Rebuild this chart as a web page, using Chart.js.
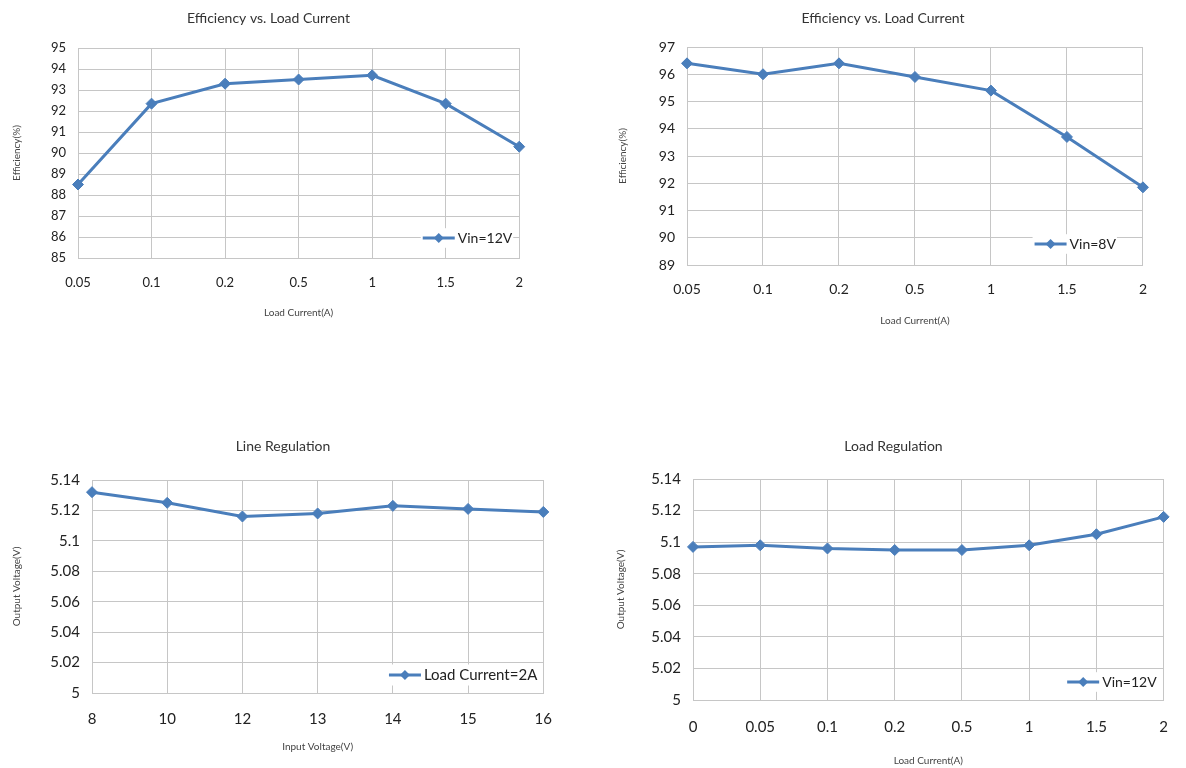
<!DOCTYPE html>
<html>
<head>
<meta charset="utf-8">
<script src="https://cdn.jsdelivr.net/npm/chart.js@4"></script>
<style>
  body { margin: 0; background: #fff; width: 1186px; height: 768px; position: relative; overflow: hidden; }
  canvas { position: absolute; }
</style>
</head>
<body>
<canvas id="eff12"></canvas>
<canvas id="eff8"></canvas>
<canvas id="lineReg"></canvas>
<canvas id="loadReg"></canvas>
<script>
// data
const effCurrent = ['0.05', '0.1', '0.2', '0.5', '1', '1.5', '2'];
const eff12V = [88.5, 92.35, 93.3, 93.5, 93.7, 92.35, 90.3];
const eff8V = [96.4, 96.0, 96.4, 95.9, 95.4, 93.7, 91.85];
const inputVoltage = ['8', '10', '12', '13', '14', '15', '16'];
const lineVout = [5.132, 5.125, 5.116, 5.118, 5.123, 5.121, 5.119];
const loadCurrent = ['0', '0.05', '0.1', '0.2', '0.5', '1', '1.5', '2'];
const loadVout = [5.097, 5.098, 5.096, 5.095, 5.095, 5.098, 5.105, 5.116];

const blue = '#4a7ebb';
const grid = '#c6c6c6';
const font = 'Lato';

// legend drawn inside the plot, bottom right, like the Excel one
const insideLegend = {
    id: 'insideLegend',
    afterDatasetsDraw(chart, args, opts) {
        const ds = chart.data.datasets[0];
        const { ctx, chartArea } = chart;
        ctx.save();
        ctx.font = opts.size + 'px ' + font;
        const tw = ctx.measureText(ds.label).width;
        const y = chartArea.bottom - opts.bottom;
        const xText = chartArea.right - opts.right - tw;
        const x2 = xText - 3;
        const x1 = x2 - 32;
        ctx.fillStyle = '#fff';
        ctx.fillRect(x1 - 2, y - opts.size * 0.7, x2 - x1 + tw + 6, opts.size * 1.4);
        ctx.strokeStyle = blue;
        ctx.lineWidth = 3;
        ctx.beginPath();
        ctx.moveTo(x1, y);
        ctx.lineTo(x2, y);
        ctx.stroke();
        const mx = (x1 + x2) / 2, r = 5;
        ctx.fillStyle = blue;
        ctx.beginPath();
        ctx.moveTo(mx, y - r);
        ctx.lineTo(mx + r, y);
        ctx.lineTo(mx, y + r);
        ctx.lineTo(mx - r, y);
        ctx.closePath();
        ctx.fill();
        ctx.fillStyle = '#222';
        ctx.textBaseline = 'middle';
        ctx.fillText(ds.label, xText, y);
        ctx.restore();
    }
};

function place(id, left, top, w, h) {
    const c = document.getElementById(id);
    c.style.left = left + 'px';
    c.style.top = top + 'px';
    c.style.width = w + 'px';
    c.style.height = h + 'px';
    c.width = w;
    c.height = h;
    return c;
}

function makeChart(c) {
    return new Chart(place(c.id, c.left, c.top, c.w, c.h), {
        type: 'line',
        data: {
            labels: c.labels,
            datasets: [{
                label: c.legend,
                data: c.values,
                borderColor: blue,
                backgroundColor: blue,
                borderWidth: 3,
                pointStyle: 'rectRot',
                pointRadius: 5.5,
                pointBorderWidth: 1,
                tension: 0
            }]
        },
        options: {
            responsive: false,
            animation: false,
            layout: { padding: { left: c.pl, right: 11, top: 0, bottom: 0 } },
            plugins: {
                legend: { display: false },
                tooltip: { enabled: false },
                title: {
                    display: true,
                    text: c.title,
                    color: '#333',
                    font: { family: font, size: 14, weight: 'normal' },
                    padding: { top: c.titleTop - 0.6, bottom: c.titleBottom - 0.6 }
                },
                insideLegend: { size: c.legendSize, right: c.legRight, bottom: c.legBottom }
            },
            scales: {
                x: {
                    grid: { color: grid, drawTicks: false },
                    border: { color: grid },
                    ticks: { color: '#222', font: { family: font, size: c.tickSize }, padding: c.xPad, maxRotation: 0 },
                    title: { display: true, text: c.xTitle, color: '#444', font: { family: font, size: 10 }, padding: { top: 4, bottom: c.xTitleBottom } },
                    afterFit(s) { s.height = c.xh; }
                },
                y: {
                    min: c.min,
                    max: c.max,
                    grid: { color: grid, drawTicks: false },
                    border: { color: grid },
                    ticks: {
                        stepSize: c.step,
                        color: '#222',
                        font: { family: font, size: c.tickSize },
                        padding: 12,
                        callback: v => String(+v.toFixed(2))
                    },
                    title: { display: true, text: c.yTitle, color: '#444', font: { family: font, size: 10 }, padding: { top: 3, bottom: 4 } },
                    afterFit(s) { s.width = c.yw; }
                }
            }
        },
        plugins: [insideLegend]
    });
}

makeChart({
    id: 'eff12', left: 0, top: 0, w: 540, h: 322, pl: 8, yw: 70, xh: 64,
    titleTop: 11, titleBottom: 21.4, xPad: 17, xTitleBottom: 3, tickSize: 13,
    labels: effCurrent, values: eff12V, legend: 'Vin=12V', legendSize: 14, legRight: 7, legBottom: 20,
    title: 'Efficiency vs. Load Current', xTitle: 'Load Current(A)', yTitle: 'Efficiency(%)',
    min: 85, max: 95, step: 1
});

makeChart({
    id: 'eff8', left: 600, top: 0, w: 563, h: 330, pl: 14, yw: 73, xh: 65,
    titleTop: 11, titleBottom: 20.4, xPad: 16, xTitleBottom: 3, tickSize: 14,
    labels: effCurrent, values: eff8V, legend: 'Vin=8V', legendSize: 14, legRight: 27, legBottom: 21,
    title: 'Efficiency vs. Load Current', xTitle: 'Load Current(A)', yTitle: 'Efficiency(%)',
    min: 89, max: 97, step: 1
});

makeChart({
    id: 'lineReg', left: 0, top: 420, w: 569, h: 336, pl: 8, yw: 84, xh: 63,
    titleTop: 19, titleBottom: 25.4, xPad: 17, xTitleBottom: 3, tickSize: 15,
    labels: inputVoltage, values: lineVout, legend: 'Load Current=2A', legendSize: 15, legRight: 6, legBottom: 18,
    title: 'Line Regulation', xTitle: 'Input Voltage(V)', yTitle: 'Output Voltage(V)',
    min: 5, max: 5.14, step: 0.02
});

makeChart({
    id: 'loadReg', left: 600, top: 420, w: 586, h: 348, pl: 12, yw: 81, xh: 68,
    titleTop: 19, titleBottom: 24.4, xPad: 18, xTitleBottom: 1, tickSize: 15,
    labels: loadCurrent, values: loadVout, legend: 'Vin=12V', legendSize: 14, legRight: 7, legBottom: 18,
    title: 'Load Regulation', xTitle: 'Load Current(A)', yTitle: 'Output Voltage(V)',
    min: 5, max: 5.14, step: 0.02
});
</script>
</body>
</html>
